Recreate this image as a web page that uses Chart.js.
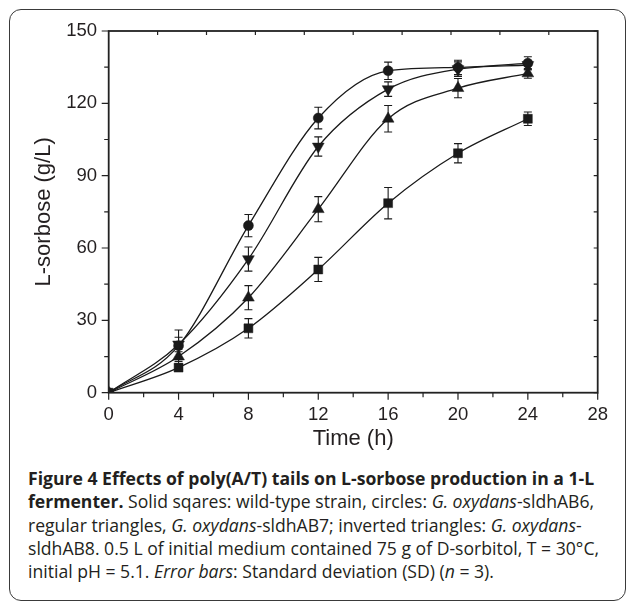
<!DOCTYPE html>
<html>
<head>
<meta charset="utf-8">
<script src="https://cdn.jsdelivr.net/npm/chart.js@4.4.1/dist/chart.umd.min.js"></script>
<style>
  html, body { margin: 0; padding: 0; background: #fff; }
  #wrap { position: relative; width: 627px; height: 604px; overflow: hidden; }
  #frame {
    position: absolute; left: 9px; top: 9px; width: 617px; height: 592px;
    border: 1.5px solid #3a3a3a; border-radius: 12px; box-sizing: border-box;
  }
  #plot { position: absolute; left: 0; top: 0; }
  #caption {
    position: absolute; left: 28px; top: 467px;
    font-family: 'Open Sans', sans-serif; font-size: 17.6px; line-height: 23.3px;
    color: #231f20; white-space: nowrap;
  }
  #caption b { font-weight: 700; }
</style>
</head>
<body>
<div id="wrap">
  <div id="frame"></div>
  <canvas id="plot" width="627" height="460"></canvas>
  <div id="caption"><b>Figure 4 Effects of poly(A/T) tails on L-sorbose production in a 1-L</b><br><b>fermenter.</b> Solid sqares: wild-type strain, circles: <i>G. oxydans</i>-sldhAB6,<br>regular triangles, <i>G. oxydans</i>-sldhAB7; inverted triangles: <i>G. oxydans</i>-<br>sldhAB8. 0.5 L of initial medium contained 75 g of D-sorbitol, T = 30°C,<br>initial pH = 5.1. <i>Error bars</i>: Standard deviation (SD) (<i>n</i> = 3).</div>
</div>
<script>
// ─── DATA ────────────────────────────────────────────────────────────────────
const times = [0, 4, 8, 12, 16, 20, 24];

// L-sorbose (g/L)
const wildType = [0, 10.4, 26.7, 51.1, 78.6, 99.3, 113.6];   // squares
const sldhAB6  = [0, 19.5, 69.3, 113.9, 133.5, 134.9, 136.6]; // circles
const sldhAB7  = [0, 15.0, 39.4, 76.1, 113.6, 126.3, 132.4];  // triangles
const sldhAB8  = [0, 20.0, 55.4, 102.1, 125.9, 134.2, 135.9]; // inverted triangles

// standard deviations
const wildTypeSD = [0, 1.5, 4.0, 5.0, 6.5, 4.0, 2.8];
const sldhAB6SD  = [0, 6.5, 4.6, 4.5, 3.6, 3.0, 2.7];
const sldhAB7SD  = [0, 3.0, 5.0, 5.2, 5.5, 4.0, 2.0];
const sldhAB8SD  = [0, 3.0, 5.0, 4.0, 3.0, 3.0, 2.0];

const xMin = 0, xMax = 28, xStep = 2, xLabelEvery = 4;
const yMin = 0, yMax = 150, yStep = 15, yLabelEvery = 30;
const topTickStep = 2.8;

const INK = '#1a1a1a';
const AXIS = '#222';
const FONT = "'Liberation Sans', Arial, sans-serif";

function pts(ys) {
  return times.map((t, i) => ({ x: t, y: ys[i] }));
}

function series(label, ys, sd, style, radius, rotation) {
  return {
    label,
    data: pts(ys),
    sd,
    borderColor: INK,
    backgroundColor: INK,
    borderWidth: 1.3,
    pointStyle: style,
    pointRadius: radius,
    pointRotation: rotation || 0,
    pointBackgroundColor: INK,
    pointBorderColor: INK,
    pointBorderWidth: 0.5,
    cubicInterpolationMode: 'monotone',
    fill: false
  };
}

// error bars, drawn from the scales
const errorBars = {
  id: 'errorBars',
  afterDatasetsDraw(chart) {
    const { ctx, scales: { x, y } } = chart;
    ctx.save();
    ctx.strokeStyle = INK;
    ctx.lineWidth = 1.1;
    chart.data.datasets.forEach(ds => {
      ds.data.forEach((p, i) => {
        const e = ds.sd[i];
        if (!e) return;
        const px = x.getPixelForValue(p.x);
        const top = y.getPixelForValue(p.y + e);
        const bot = y.getPixelForValue(p.y - e);
        ctx.beginPath();
        ctx.moveTo(px, top); ctx.lineTo(px, bot);
        ctx.moveTo(px - 4, top); ctx.lineTo(px + 4, top);
        ctx.moveTo(px - 4, bot); ctx.lineTo(px + 4, bot);
        ctx.stroke();
      });
    });
    ctx.restore();
  }
};

// closed frame + ticks (outward on left/bottom, inward on top/right)
const axisFrame = {
  id: 'axisFrame',
  afterDraw(chart) {
    const { ctx, chartArea: a, scales: { x, y } } = chart;
    ctx.save();
    ctx.strokeStyle = AXIS;
    ctx.lineWidth = 1.8;
    ctx.strokeRect(a.left, a.top, a.right - a.left, a.bottom - a.top);
    ctx.lineWidth = 1.2;
    ctx.beginPath();
    for (let v = xMin; v <= xMax; v += xStep) {
      const px = x.getPixelForValue(v);
      const len = v % xLabelEvery === 0 ? 7 : 4.5;
      ctx.moveTo(px, a.bottom); ctx.lineTo(px, a.bottom + len);
    }
    for (let v = yMin; v <= yMax; v += yStep) {
      const py = y.getPixelForValue(v);
      const len = v % yLabelEvery === 0 ? 7 : 4.5;
      ctx.moveTo(a.left - len, py); ctx.lineTo(a.left, py);
      ctx.moveTo(a.right - 4, py); ctx.lineTo(a.right, py);
    }
    for (let k = 1; k * topTickStep < xMax; k++) {
      const px = x.getPixelForValue(k * topTickStep);
      ctx.moveTo(px, a.top); ctx.lineTo(px, a.top + 4);
    }
    ctx.stroke();
    ctx.restore();
  }
};

new Chart(document.getElementById('plot'), {
  type: 'line',
  data: {
    datasets: [
      series('wild-type', wildType, wildTypeSD, 'rect', 6.3),
      series('sldhAB7', sldhAB7, sldhAB7SD, 'triangle', 6.8),
      series('sldhAB8', sldhAB8, sldhAB8SD, 'triangle', 6.8, 180),
      series('sldhAB6', sldhAB6, sldhAB6SD, 'circle', 5)
    ]
  },
  options: {
    responsive: false,
    animation: false,
    layout: { padding: { left: 10, right: 29.3, top: 31, bottom: 0 } },
    plugins: { legend: { display: false }, tooltip: { enabled: false } },
    scales: {
      x: {
        type: 'linear', min: xMin, max: xMax,
        grid: { display: false, drawTicks: false },
        border: { display: false },
        ticks: {
          stepSize: xStep, autoSkip: false, maxRotation: 0, padding: 11,
          color: '#231f20', font: { family: FONT, size: 18.5 },
          callback: v => (v % xLabelEvery === 0 ? v : '')
        },
        title: {
          display: true, text: 'Time (h)', color: '#231f20',
          font: { family: FONT, size: 22 }, padding: { top: 0, bottom: 7.8 }
        },
        afterFit: s => { s.height = 67.3; }
      },
      y: {
        min: yMin, max: yMax,
        grid: { display: false, drawTicks: false },
        border: { display: false },
        ticks: {
          stepSize: yStep, padding: 11.7,
          color: '#231f20', font: { family: FONT, size: 18.5 },
          callback: v => (v % yLabelEvery === 0 ? v : '')
        },
        title: {
          display: true, text: 'L-sorbose (g/L)', color: '#231f20',
          font: { family: FONT, size: 22 }, padding: { top: 20.8, bottom: 0 }
        },
        afterFit: s => { s.width = 98.7; }
      }
    }
  },
  plugins: [errorBars, axisFrame]
});
</script>
</body>
</html>
